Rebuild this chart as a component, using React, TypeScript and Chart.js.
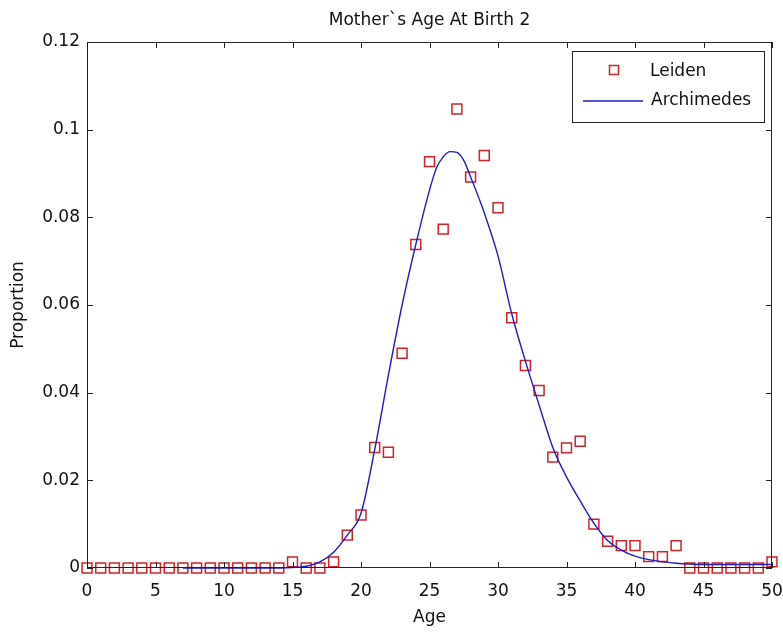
import { useEffect, useRef } from 'react';
import { Chart, registerables } from 'chart.js';

Chart.register(...registerables);

const chartTitle = 'Mother`s Age At Birth 2';
const xTitle = 'Age';
const yTitle = 'Proportion';

// Observed proportions (Leiden), one per year of age 0..50
const ages = [
  0, 1, 2, 3, 4, 5, 6, 7, 8, 9, 10, 11, 12, 13, 14, 15, 16, 17, 18, 19, 20, 21, 22, 23, 24, 25,
  26, 27, 28, 29, 30, 31, 32, 33, 34, 35, 36, 37, 38, 39, 40, 41, 42, 43, 44, 45, 46, 47, 48, 49, 50,
];
const leiden = [
  0, 0, 0, 0, 0, 0, 0, 0, 0, 0, 0, 0, 0, 0, 0, 0.0014, 0, 0, 0.0014, 0.0075, 0.0121, 0.0275, 0.0264,
  0.049, 0.0738, 0.0927, 0.0773, 0.1047, 0.0892, 0.0941, 0.0822, 0.0571, 0.0462, 0.0405, 0.0253,
  0.0274, 0.0289, 0.01, 0.0061, 0.0051, 0.0051, 0.0026, 0.0026, 0.0051, 0, 0, 0, 0, 0, 0, 0.0014,
];

// Model curve (Archimedes)
const archAges = [
  7, 8, 9, 10, 11, 12, 13, 14, 15, 16, 17, 18, 19, 20, 21, 22, 23, 24, 25, 25.5, 26, 26.5, 27, 27.5,
  28, 29, 30, 31, 32, 33, 34, 35, 36, 37, 38, 39, 40, 41, 42, 43, 44, 45, 46, 47, 48, 49, 50,
];
const archimedes = [
  0, 0, 0, 0, 0, 0, 0, 0, 0.0001, 0.0004, 0.0014, 0.0036, 0.0075, 0.0125, 0.027, 0.044, 0.06, 0.0738,
  0.0862, 0.0912, 0.0938, 0.095, 0.0948, 0.093, 0.0892, 0.081, 0.0712, 0.058, 0.0472, 0.0372, 0.0275,
  0.0208, 0.0153, 0.0102, 0.0063, 0.0041, 0.0027, 0.0019, 0.0014, 0.0011, 0.0009, 0.0008, 0.0008,
  0.0008, 0.0008, 0.0008, 0.0008,
];

const xTicks = [0, 5, 10, 15, 20, 25, 30, 35, 40, 45, 50];
const yTicks = [0, 0.02, 0.04, 0.06, 0.08, 0.1, 0.12];

const FONT = 'DejaVu Sans';
const TEXT = '#111';
const FRAME = '#222';
const RED = 'rgb(208, 34, 40)';
const BLUE = 'rgb(28, 28, 200)';

// Draws the boxed axes with inward tick marks on all four sides, plus the legend
const framePlugin = {
  id: 'matlabFrame',
  afterDraw(chart: any) {
    const { ctx, chartArea: a, scales } = chart;
    const xs = scales.x;
    const ys = scales.y;
    const tl = 6;
    ctx.save();
    ctx.strokeStyle = FRAME;
    ctx.lineWidth = 1;
    ctx.strokeRect(a.left + 0.5, a.top + 0.5, a.right - a.left - 1, a.bottom - a.top - 1);
    ctx.beginPath();
    for (const v of xTicks) {
      const px = Math.round(xs.getPixelForValue(v)) + 0.5;
      ctx.moveTo(px, a.bottom);
      ctx.lineTo(px, a.bottom - tl);
      ctx.moveTo(px, a.top);
      ctx.lineTo(px, a.top + tl);
    }
    for (const v of yTicks) {
      const py = Math.round(ys.getPixelForValue(v)) + 0.5;
      ctx.moveTo(a.left, py);
      ctx.lineTo(a.left + tl, py);
      ctx.moveTo(a.right, py);
      ctx.lineTo(a.right - tl, py);
    }
    ctx.stroke();

    // Legend box in the upper-right corner of the axes
    const bx = a.right - 200;
    const by = a.top + 9;
    const bw = 192;
    const bh = 71;
    ctx.fillStyle = '#fff';
    ctx.fillRect(bx, by, bw, bh);
    ctx.strokeStyle = FRAME;
    ctx.strokeRect(bx + 0.5, by + 0.5, bw, bh);

    const ds0 = chart.data.datasets[0];
    const ds1 = chart.data.datasets[1];
    ctx.strokeStyle = ds0.borderColor;
    ctx.lineWidth = 1.5;
    ctx.strokeRect(bx + 37.5, by + 14.5, 9, 9);

    ctx.strokeStyle = ds1.borderColor;
    ctx.lineWidth = 1.5;
    ctx.beginPath();
    ctx.moveTo(bx + 11, by + 50);
    ctx.lineTo(bx + 71, by + 50);
    ctx.stroke();

    ctx.fillStyle = TEXT;
    ctx.font = `17px "${FONT}"`;
    ctx.textBaseline = 'middle';
    ctx.textAlign = 'left';
    ctx.fillText(ds0.label, bx + 78, by + 21);
    ctx.fillText(ds1.label, bx + 79, by + 50);
    ctx.restore();
  },
};

export default function App() {
  const canvasRef = useRef<HTMLCanvasElement | null>(null);

  useEffect(() => {
    const canvas = canvasRef.current;
    if (!canvas) return;
    const chart = new Chart(canvas, {
      type: 'scatter',
      data: {
        datasets: [
          {
            label: 'Leiden',
            type: 'scatter',
            data: ages.map((a, i) => ({ x: a, y: leiden[i] })),
            borderColor: RED,
            backgroundColor: 'rgba(0,0,0,0)',
            pointStyle: 'rect',
            pointRadius: 7,
            pointBorderWidth: 1.5,
            clip: false,
            order: 1,
          },
          {
            label: 'Archimedes',
            type: 'line',
            data: archAges.map((a, i) => ({ x: a, y: archimedes[i] })),
            borderColor: BLUE,
            borderWidth: 1.4,
            pointRadius: 0,
            cubicInterpolationMode: 'monotone',
            fill: false,
            clip: false,
            order: 0,
          },
        ],
      },
      options: {
        responsive: false,
        animation: false,
        layout: { padding: { left: 0, top: 0, right: 0, bottom: 0 } },
        plugins: {
          legend: { display: false },
          tooltip: { enabled: false },
          title: { display: false },
        },
        scales: {
          x: {
            type: 'linear',
            min: 0,
            max: 50,
            grid: { display: false, drawTicks: false },
            border: { display: false },
            afterBuildTicks: (s: any) => {
              s.ticks = xTicks.map((v) => ({ value: v }));
            },
            afterFit: (s: any) => {
              s.height = 65;
              s.paddingLeft = 0;
              s.paddingRight = 11;
            },
            ticks: {
              color: TEXT,
              font: { family: FONT, size: 17 },
              padding: 13,
              maxRotation: 0,
              autoSkip: false,
              callback: (v: any) => String(v),
            },
            title: {
              display: true,
              text: xTitle,
              color: TEXT,
              font: { family: FONT, size: 17 },
              padding: { top: 0, bottom: 5 },
            },
          },
          // Top axis carries the chart title, centred over the plot box
          x2: {
            type: 'linear',
            position: 'top',
            min: 0,
            max: 50,
            grid: { display: false, drawTicks: false },
            border: { display: false },
            ticks: { display: false },
            afterFit: (s: any) => {
              s.height = 42;
              s.paddingLeft = 0;
              s.paddingRight = 0;
            },
            title: {
              display: true,
              text: chartTitle,
              color: TEXT,
              font: { family: FONT, size: 17 },
              padding: { top: 10, bottom: 0 },
            },
          },
          y: {
            type: 'linear',
            min: 0,
            max: 0.12,
            grid: { display: false, drawTicks: false },
            border: { display: false },
            afterBuildTicks: (s: any) => {
              s.ticks = yTicks.map((v) => ({ value: v }));
            },
            afterFit: (s: any) => {
              s.width = 87;
            },
            ticks: {
              color: TEXT,
              font: { family: FONT, size: 17 },
              padding: 7,
              autoSkip: false,
              callback: (v: any) => String(v),
            },
            title: {
              display: true,
              text: yTitle,
              color: TEXT,
              font: { family: FONT, size: 17 },
              padding: { top: 8, bottom: 0 },
            },
          },
        },
      },
      plugins: [framePlugin],
    } as any);
    return () => chart.destroy();
  }, []);

  return (
    <div style={{ position: 'fixed', left: 0, top: 0, width: 783, height: 633, background: '#fff' }}>
      <canvas ref={canvasRef} width={783} height={633} />
    </div>
  );
}
